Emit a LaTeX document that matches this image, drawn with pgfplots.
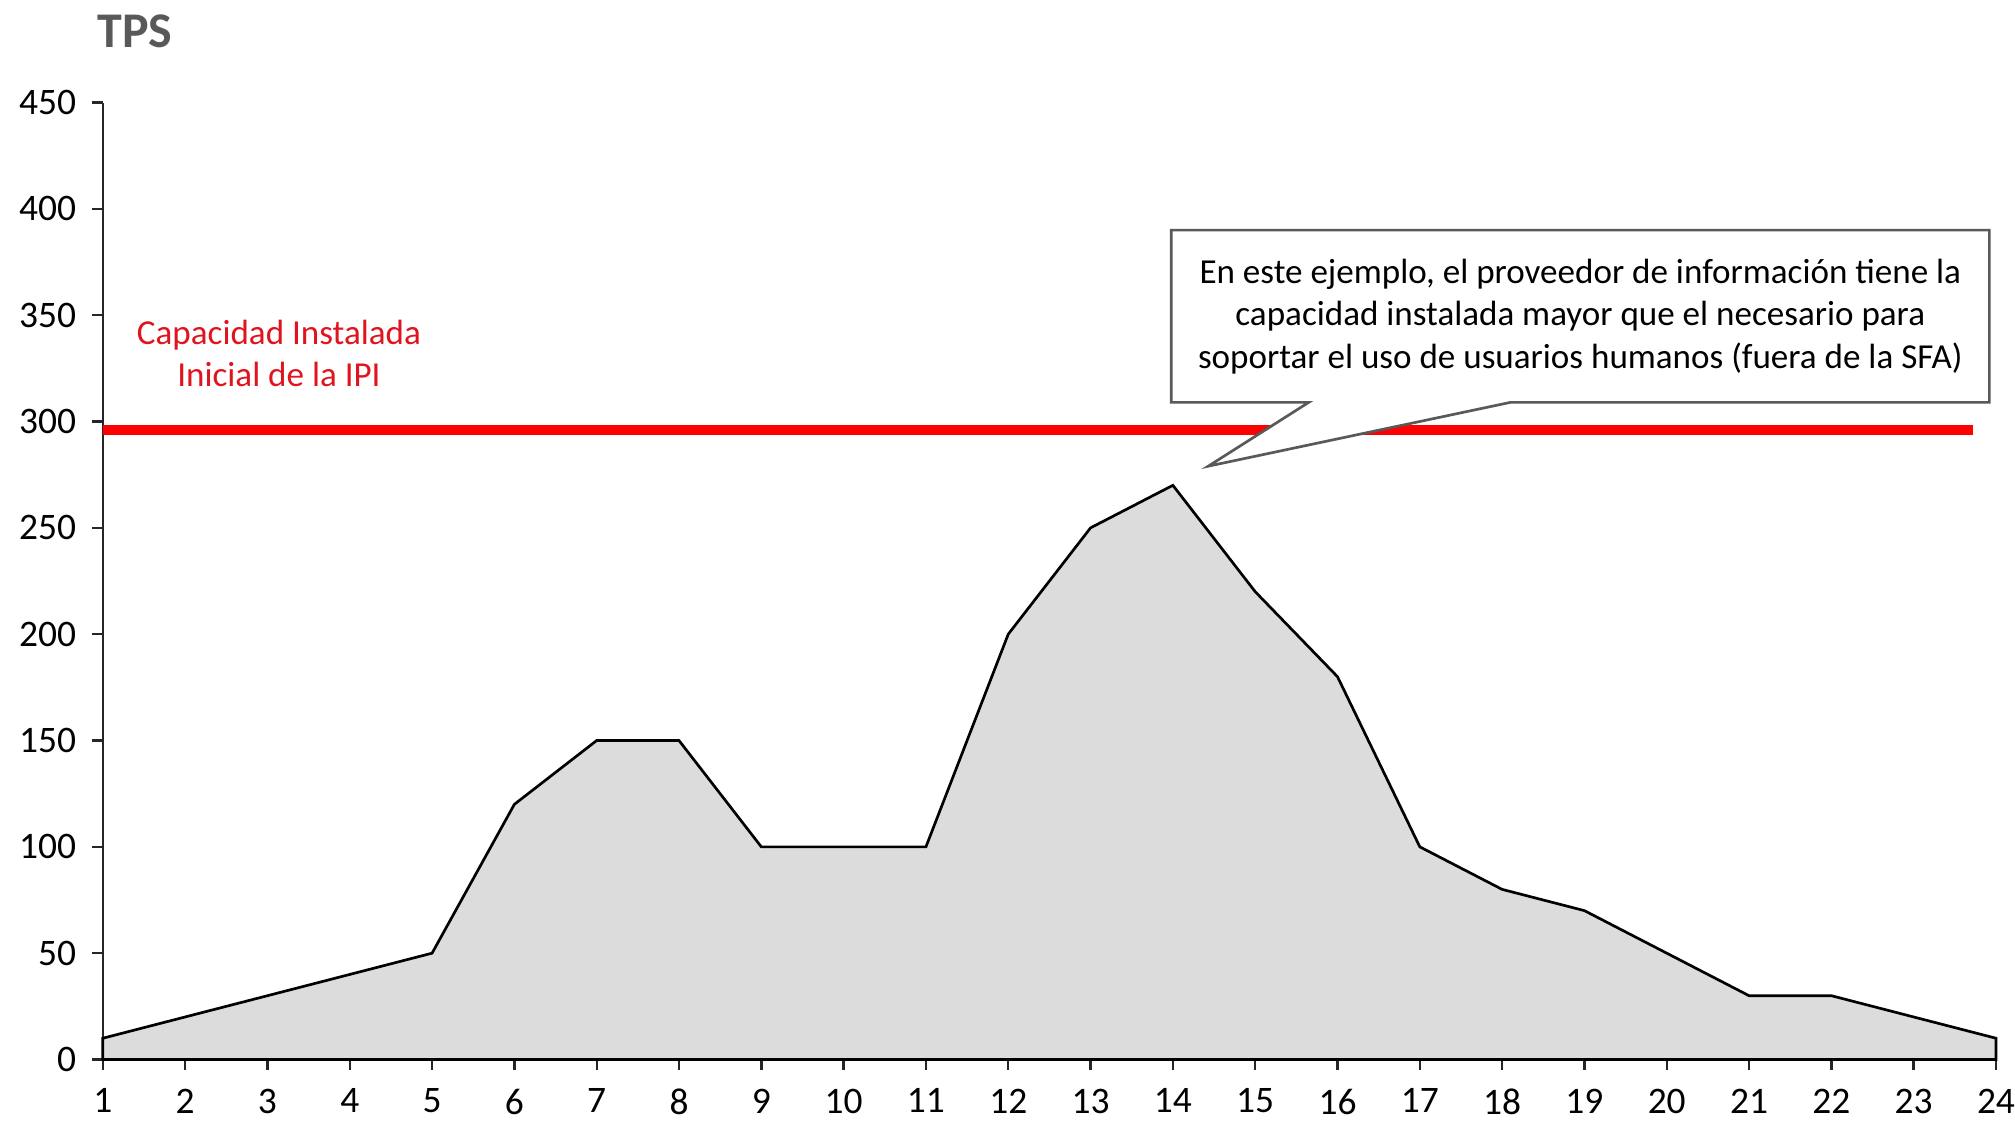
\documentclass[border=0pt]{standalone}
\usepackage{pgfplots}
\pgfplotsset{compat=1.18}
\usepackage{fontspec}
\setmainfont{Carlito}
\definecolor{areagray}{HTML}{DCDCDC}
\definecolor{titlegray}{HTML}{595959}
\definecolor{boxgray}{HTML}{595959}
\definecolor{capred}{HTML}{FF0000}
\definecolor{textred}{HTML}{E0141E}

\pgfplotstableread{
hora tps
1 10
2 20
3 30
4 40
5 50
6 120
7 150
8 150
9 100
10 100
11 100
12 200
13 250
14 270
15 220
16 180
17 100
18 80
19 70
20 50
21 30
22 30
23 20
24 10
}\tpsdata

\begin{document}
\begin{tikzpicture}
\path [use as bounding box] (-34.6pt,-21pt) rectangle (643.4pt,356.5pt);
\begin{axis}[
    at={(0,0)}, anchor=south west,
    scale only axis,
    width=637pt, height=322pt,
    xmin=1, xmax=24, ymin=0, ymax=450,
    axis lines*=left,
    axis line style={black!85, line width=0.8pt},
    xtick={1,...,24},
    ytick={0,50,...,450},
    tick align=outside,
    major tick length=3.5pt,
    tick style={black!85, line width=0.8pt},
    tick label style={font=\fontsize{12.6}{13}\selectfont},
    /pgf/number format/assume math mode=true,
    xticklabel style={yshift=-2.8pt},
    yticklabel style={xshift=-2pt},
    clip=false,
]
\addplot [fill=areagray, draw=black, line width=0.9pt] table [x=hora, y=tps] {\tpsdata} \closedcycle;

% capacidad instalada
\addplot [capred, line width=3.2pt, forget plot] coordinates {(1,296) (23.72,296)};

\node [textred, align=center, font=\fontsize{11.8}{14.3}\selectfont]
    at (axis cs:3.14,332) {Capacidad Instalada\\Inicial de la IPI};

% callout
\filldraw [fill=white, draw=boxgray, line width=0.9pt]
    (axis cs:13.98,390) -- (axis cs:23.92,390) -- (axis cs:23.92,309)
    -- (axis cs:18.1,309) -- (axis cs:14.43,279) -- (axis cs:15.65,309)
    -- (axis cs:13.98,309) -- cycle;
\node [align=center, font=\fontsize{11.8}{14.3}\selectfont]
    at (axis cs:18.95,349.5) {En este ejemplo, el proveedor de información tiene la\\
    capacidad instalada mayor que el necesario para\\
    soportar el uso de usuarios humanos (fuera de la SFA)};

\node [anchor=base west, font=\fontsize{16.8}{18}\bfseries, text=titlegray, inner sep=0pt]
    at ([xshift=-2pt, yshift=18.6pt]rel axis cs:0,1) {TPS};
\end{axis}
\end{tikzpicture}
\end{document}
